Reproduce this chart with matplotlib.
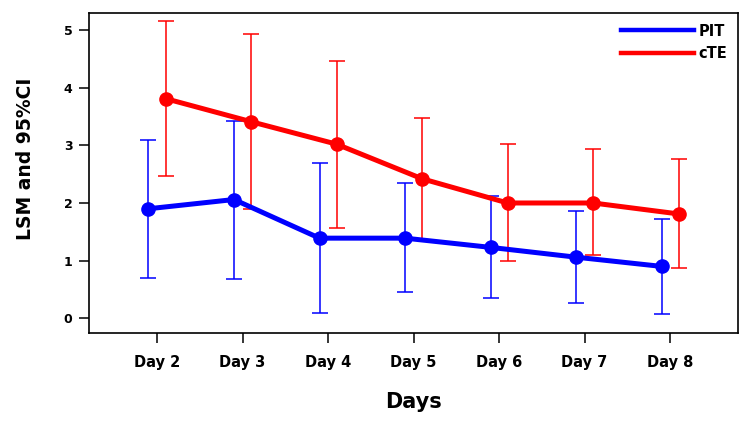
import matplotlib
matplotlib.use("Agg")
import matplotlib.pyplot as plt
import numpy as np

# ── Data ──────────────────────────────────────────────────────────────────────
days = ["Day 2", "Day 3", "Day 4", "Day 5", "Day 6", "Day 7", "Day 8"]

pit_mean = [1.90, 2.06, 1.39, 1.39, 1.23, 1.06, 0.90]
pit_lo   = [0.70, 0.69, 0.10, 0.45, 0.35, 0.26, 0.07]
pit_hi   = [3.09, 3.43, 2.69, 2.34, 2.12, 1.86, 1.72]

cte_mean = [3.81, 3.41, 3.02, 2.42, 2.00, 2.00, 1.81]
cte_lo   = [2.47, 1.89, 1.56, 1.36, 1.00, 1.09, 0.87]
cte_hi   = [5.15, 4.93, 4.46, 3.48, 3.02, 2.93, 2.76]

PIT_COLOR = "#0000ff"
CTE_COLOR = "#ff0000"
DODGE = 0.10

plt.rcParams["font.family"] = ["DejaVu Sans"]
plt.rcParams["font.weight"] = "bold"

fig = plt.figure(figsize=(7.5, 4.22), dpi=100)
ax = fig.add_axes([0.1187, 0.2109, 0.8649, 0.7576])

x = np.arange(len(days))


def draw(offset, mean, lo, hi, color, label):
    mean = np.array(mean)
    yerr = [mean - np.array(lo), np.array(hi) - mean]
    ax.errorbar(x + offset, mean, yerr=yerr, fmt="none", ecolor=color,
                elinewidth=1.1, capsize=5.5, capthick=1.1, zorder=2)
    ax.plot(x + offset, mean, color=color, linewidth=3.6, marker="o",
            markersize=9.5, label=label, zorder=3)


draw(-DODGE, pit_mean, pit_lo, pit_hi, PIT_COLOR, "PIT")
draw(DODGE, cte_mean, cte_lo, cte_hi, CTE_COLOR, "cTE")

ax.set_xlim(-0.795, 6.79)
ax.set_ylim(-0.255, 5.29)
ax.set_xticks(x)
ax.set_xticklabels(days, fontsize=10.5, fontweight="bold")
ax.set_yticks([0, 1, 2, 3, 4, 5])
ax.set_yticklabels(["0", "1", "2", "3", "4", "5"], fontsize=9, fontweight="bold")
ax.tick_params(axis="y", length=7, width=1.1, pad=5)
ax.tick_params(axis="x", length=7, width=1.1, pad=9)
for spine in ax.spines.values():
    spine.set_linewidth(1.2)

ax.set_xlabel("Days", fontsize=15, fontweight="bold", labelpad=16)
ax.set_ylabel("LSM and 95%CI", fontsize=13.5, fontweight="bold")
# label sits a little above the axes centre in the original
ax.yaxis.set_label_coords(-0.084, 0.544)

leg = ax.legend(loc="upper right", frameon=False, fontsize=10.5,
                handlelength=5.0, handletextpad=0.35, labelspacing=0.5,
                borderaxespad=0.3)
for line in leg.get_lines():
    line.set_linewidth(3.2)
    line.set_marker("")

fig.savefig("out.png", dpi=100)
